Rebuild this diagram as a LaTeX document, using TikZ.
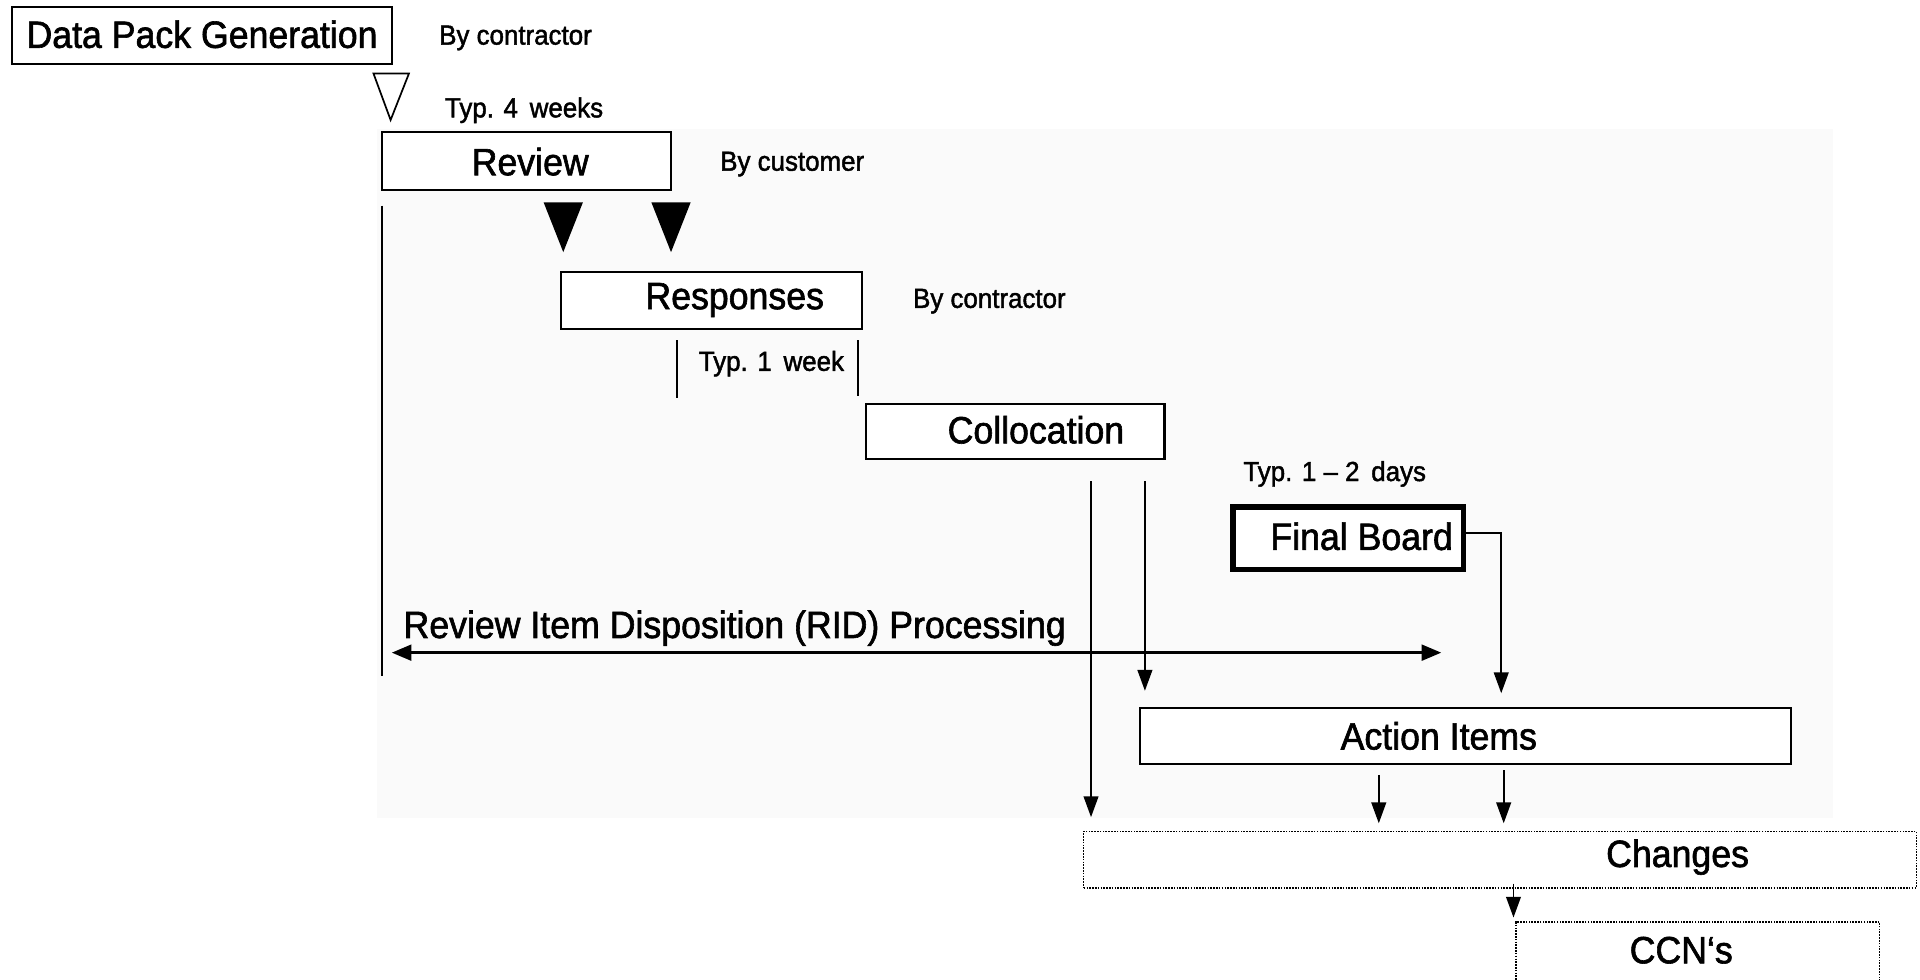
\documentclass[tikz,border=0pt]{standalone}
\usepackage{fontspec}
\setmainfont[FakeStretch=0.94,FakeBold=1.6]{Liberation Sans}
\usetikzlibrary{arrows.meta}
\begin{document}
\begin{tikzpicture}[x=1pt,y=-1pt,
  box/.style={draw, line width=1.7pt, inner sep=0pt, fill=white},
  dbox/.style={draw, line width=1.3pt, densely dotted, inner sep=0pt, fill=white},
  big/.style={font=\fontsize{31}{34}\selectfont, inner sep=0pt},
  small/.style={font=\fontsize{22.5}{24}\selectfont, inner sep=0pt},
  conn/.style={line width=1.5pt, -{Triangle[length=17pt,width=12pt]}},
  tri/.style={draw, line width=1.4pt, line join=miter}
]
\useasboundingbox (0,0) rectangle (1568,800);
\clip (0,0) rectangle (1568,800);
\fill[black!2] (308,105) rectangle (1497,668);

% Data pack generation
\node[box, minimum width=310pt, minimum height=46pt] (dpg) at (165,29) {};
\node[big] (dpgt) at (165,28) {Data Pack Generation};
\node[small] (bc1) at (421,31) {By contractor};
\filldraw[tri, fill=white] (305,60) -- (334,60) -- (319,98) -- cycle;
\node[small] (t4w) at (428,90) {Typ. 4\, weeks};

% Review
\node[box, minimum width=236pt, minimum height=47pt] (rev) at (430,131.5) {};
\node[big] (revt) at (433,132) {Review};
\node[small] (bcu) at (647,134) {By customer};
\coordinate (vtop) at (312,168);
\draw[line width=1.5pt] (vtop) -- (312,552);
\filldraw[tri, fill=black] (445,166) -- (475,166) -- (460,204) -- cycle;
\filldraw[tri, fill=black] (533,166) -- (563,166) -- (548,204) -- cycle;

% Responses
\node[box, minimum width=246pt, minimum height=47pt] (resp) at (581,245.5) {};
\node[big] (respt) at (600,245) {Responses};
\node[small] (bc2) at (808,246) {By contractor};
\draw[line width=1.5pt] (553,278) -- (553,325);
\draw[line width=1.5pt] (701,278) -- (701,323);
\node[small] (t1w) at (630,297) {Typ. 1\, week};

% Collocation
\node[box, minimum width=244pt, minimum height=45pt] (coll) at (829,352.5) {};
\node[big] (collt) at (846,351) {Collocation};

% Final board
\node[small] (t12d) at (1090,387) {Typ. 1 -- 2\, days};
\node[draw, line width=4.5pt, inner sep=0pt, fill=white, minimum width=188pt, minimum height=51pt] (fb) at (1101,439.5) {};
\node[big] (fbt) at (1112,438) {Final Board};

% RID processing
\node[big] (rid) at (600,513) {Review Item Disposition (RID) Processing};
\coordinate (ridl) at (320,533);
\coordinate (ridr) at (1177,533);
\draw[line width=1.9pt, {Triangle[length=16pt,width=13pt]}-{Triangle[length=16pt,width=13pt]}] (ridl) -- (ridr);

% Action items
\node[box, minimum width=532pt, minimum height=46pt] (ai) at (1197,601) {};
\node[big] (ait) at (1175,601) {Action Items};

% Changes
\node[dbox, minimum width=680pt, minimum height=46pt] (chg) at (1225,702) {};
\node[big] (chgt) at (1370,700) {Changes};

% CCN's
\node[dbox, minimum width=297pt, minimum height=80pt] (ccn) at (1386.5,793) {};
\node[big] (ccnt) at (1373,776) {CCN‘s};

% connectors
\draw[conn, shorten <=17pt, shorten >=11pt] (891,0 |- coll.south) -- (891,0 |- chg.north);
\draw[conn, shorten <=17pt, shorten >=13pt] (935,0 |- coll.south) -- (935,0 |- ai.north);
\draw[conn, shorten >=11pt] ([yshift=4.5pt]fb.east) -| (1226,0 |- ai.north);
\draw[conn, shorten <=8pt, shorten >=6pt] (1126,0 |- ai.south) -- (1126,0 |- chg.north);
\draw[conn, shorten <=4pt, shorten >=6pt] (1228,0 |- ai.south) -- (1228,0 |- chg.north);
\draw[conn, shorten <=-4pt, shorten >=3pt] (1236,0 |- chg.south) -- (1236,0 |- ccn.north);
\end{tikzpicture}
\end{document}
